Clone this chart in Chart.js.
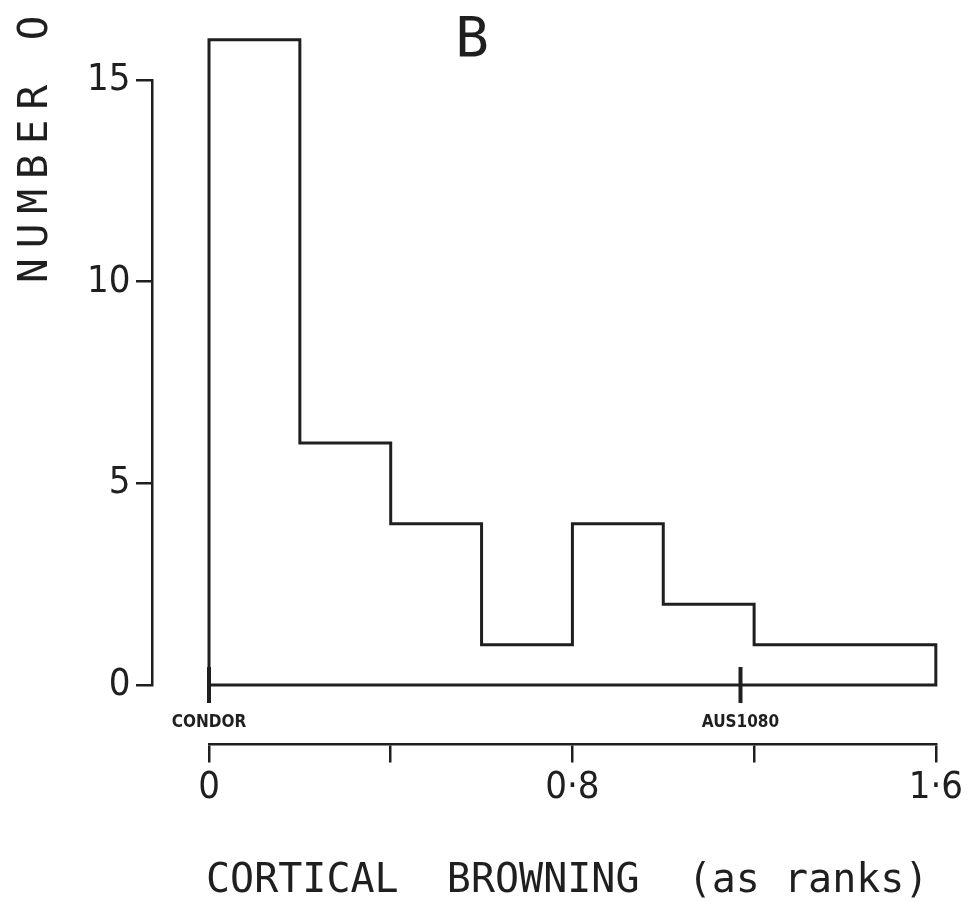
<!DOCTYPE html>
<html lang="en">
<head>
  <meta charset="UTF-8" />
  <title>Cortical Browning Histogram</title>
  <script src="https://cdn.jsdelivr.net/npm/chart.js"></script>
  <style>
    body {
      margin: 0;
      background: #ffffff;
    }

    canvas {
      display: block;
    }
  </style>
</head>
<body>

  <canvas id="histChart" width="967" height="901"></canvas>

  <script>
    // Bin edges (cortical browning, as ranks) and number in each bin
    const binEdges = [0, 0.2, 0.4, 0.6, 0.8, 1.0, 1.2, 1.4, 1.6];
    const binCounts = [16, 6, 4, 1, 4, 2, 1, 1];

    // Reference cultivars marked on the baseline
    const markerNames = ['CONDOR', 'AUS1080'];
    const markerValues = [0, 1.17];

    // Axis ticks
    const xTickValues = [0, 0.4, 0.8, 1.2, 1.6];
    const xTickLabels = ['0', '', '0·8', '', '1·6'];
    const yTickValues = [0, 5, 10, 15];

    const ink = '#1f1f1f';
    const tickFont = { family: '"Liberation Sans Narrow", "DejaVu Sans Condensed", sans-serif', size: 38 };

    // Outline of the histogram: up the first edge, across each bin, back down
    const outline = [{ x: binEdges[0], y: 0 }];
    binCounts.forEach((c, i) => {
      outline.push({ x: binEdges[i], y: c });
      outline.push({ x: binEdges[i + 1], y: c });
    });
    outline.push({ x: binEdges[binEdges.length - 1], y: 0 });
    outline.push({ x: binEdges[0], y: 0 });

    // Panel letter, axis titles and cultivar names
    const textPlugin = {
      id: 'paperText',
      afterDraw(chart) {
        const { ctx, scales: { x, y } } = chart;
        ctx.save();
        ctx.fillStyle = ink;

        ctx.font = '56px "DejaVu Sans Mono", monospace';
        ctx.textAlign = 'center';
        ctx.textBaseline = 'alphabetic';
        ctx.fillText('B', 472, 56);

        ctx.font = '40px "DejaVu Sans Mono", monospace';
        ctx.textAlign = 'left';
        ctx.fillText('CORTICAL  BROWNING  (as ranks)', 206, 892);

        ctx.font = 'bold 17px "Liberation Sans Narrow", "DejaVu Sans Condensed", sans-serif';
        ctx.textAlign = 'center';
        ctx.textBaseline = 'middle';
        markerNames.forEach((name, i) => {
          ctx.fillText(name, x.getPixelForValue(markerValues[i]), y.getPixelForValue(0) + 38);
        });

        ctx.translate(47, 283);
        ctx.rotate(-Math.PI / 2);
        ctx.font = '41px "DejaVu Sans Mono", monospace';
        ctx.letterSpacing = '10px';
        ctx.textAlign = 'left';
        ctx.textBaseline = 'alphabetic';
        ctx.fillText('NUMBER O', 0, 0);
        ctx.restore();
      }
    };

    new Chart(document.getElementById('histChart'), {
      type: 'scatter',
      data: {
        datasets: [{
          data: outline,
          showLine: true,
          borderColor: ink,
          borderWidth: 3,
          pointRadius: 0,
          fill: false,
          clip: false
        }, {
          data: markerValues.map(v => ({ x: v, y: 0 })),
          showLine: false,
          pointStyle: 'line',
          pointRotation: 90,
          pointRadius: 18,
          pointBorderColor: ink,
          pointBorderWidth: 4,
          clip: false
        }]
      },
      options: {
        responsive: false,
        animation: false,
        layout: {
          padding: { left: 209, right: 30, top: 80, bottom: 216 }
        },
        plugins: {
          legend: { display: false },
          tooltip: { enabled: false }
        },
        scales: {
          x: {
            type: 'linear',
            min: 0,
            max: 1.6,
            position: { y: -1.48 },
            afterBuildTicks: s => { s.ticks = xTickValues.map(v => ({ value: v })); },
            ticks: {
              callback: v => xTickLabels[xTickValues.indexOf(v)],
              color: ink,
              font: tickFont,
              padding: 4,
              maxRotation: 0,
              autoSkip: false
            },
            grid: { drawOnChartArea: false, tickLength: 17, lineWidth: 2.5, color: ink },
            border: { color: ink, width: 2.5 }
          },
          y: {
            type: 'linear',
            min: 0,
            max: 15,
            position: { x: -0.125 },
            afterBuildTicks: s => { s.ticks = yTickValues.map(v => ({ value: v })); },
            ticks: {
              // trailing spaces keep the labels clear of the tick marks
              callback: v => String(v) + '  ',
              color: ink,
              font: tickFont,
              autoSkip: false
            },
            grid: { drawOnChartArea: false, tickLength: 15, lineWidth: 2.5, color: ink },
            border: { color: ink, width: 2.5 }
          }
        }
      },
      plugins: [textPlugin]
    });
  </script>

</body>
</html>
